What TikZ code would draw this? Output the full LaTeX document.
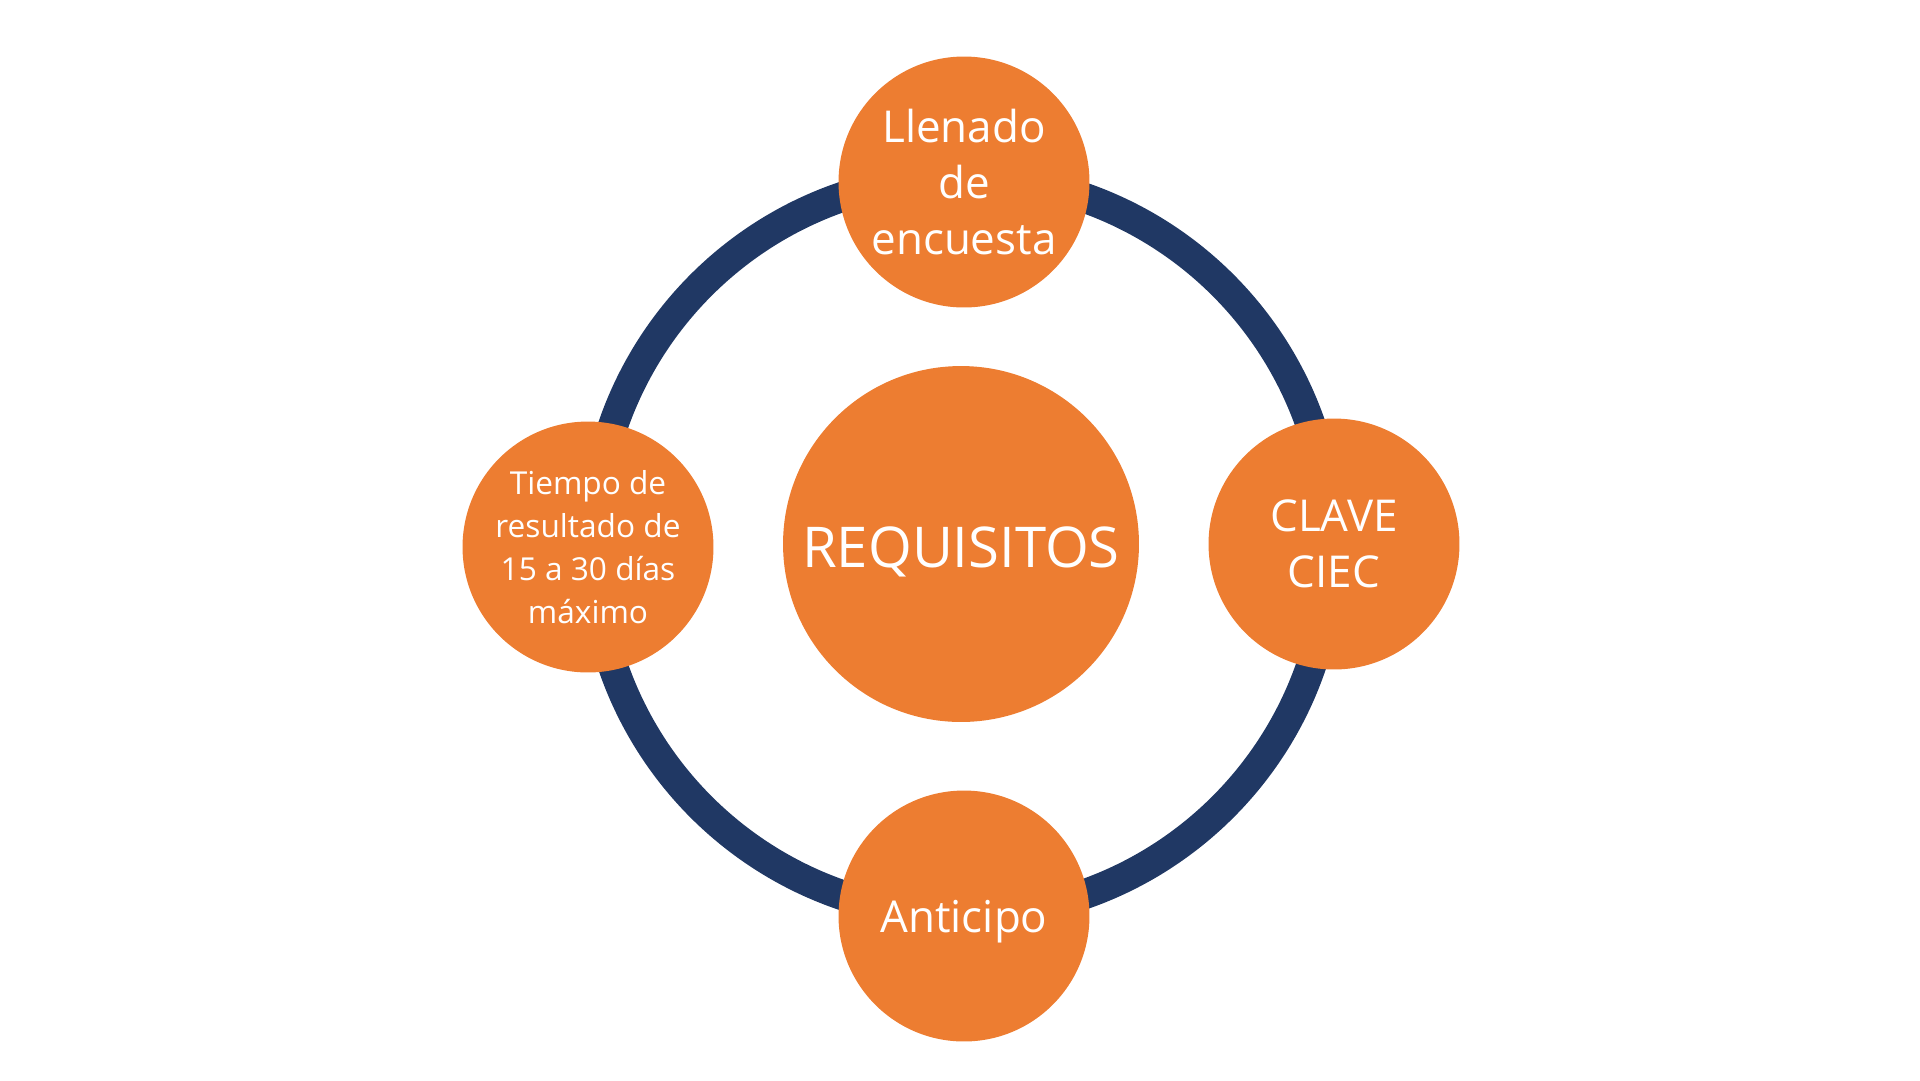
\documentclass[tikz,border=0pt]{standalone}
\usepackage{fontspec}
\setmainfont{Open Sans}
\usetikzlibrary{positioning}
\definecolor{ringblue}{HTML}{203864}
\definecolor{reqorange}{HTML}{ED7D31}

\begin{document}
\begin{tikzpicture}[
    x=0.02cm, y=-0.02cm,
    item/.style={circle, fill=reqorange, text=white, minimum size=5.02cm, inner sep=0pt, align=center, font=\fontsize{25}{32}\selectfont},
    hub/.style={circle, fill=reqorange, text=white, minimum size=7.12cm, inner sep=0pt, text depth=0pt, font=\fontsize{32}{38}\selectfont},
    ring/.style={draw=ringblue, line width=0.6cm}
]
\useasboundingbox (0,0) rectangle (1920,1080);

% Ring
\coordinate (mid) at (962,546);
\draw[ring] (mid) circle[radius=369];

% Nodes
\node[hub] (req) at (961,544) {\raisebox{-4pt}{REQUISITOS}};
\node[item] (survey) at (964,182) {Llenado\\de\\encuesta};
\node[item] (ciec) at (1334,544) {CLAVE\\CIEC};
\node[item, text depth=0pt] (advance) at (964,916) {Anticipo};
\node[item, font=\fontsize{18}{24.5}\selectfont] (time) at (588,547) {Tiempo de\\resultado de\\15 a 30 días\\máximo};
\end{tikzpicture}
\end{document}
